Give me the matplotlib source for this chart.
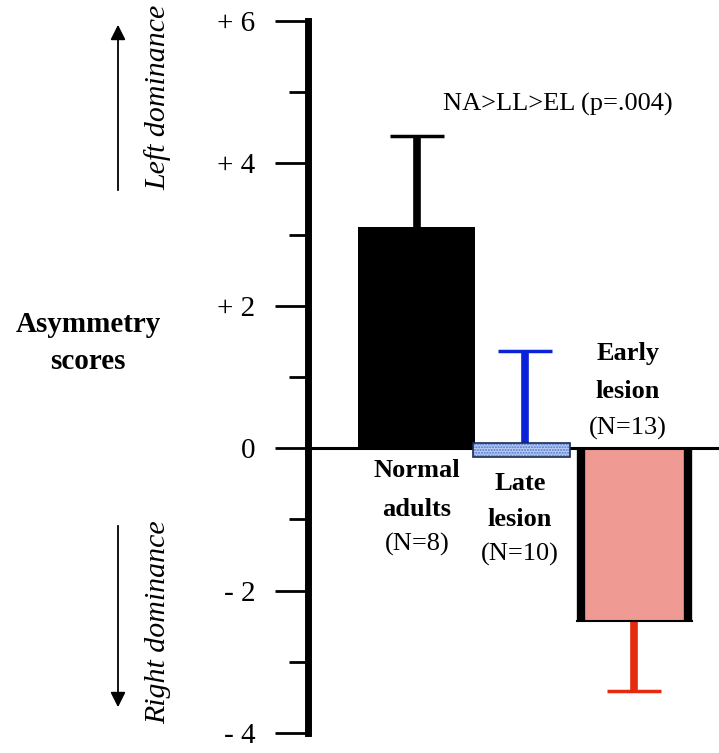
"""
 * Asymmetry scores for normal adults, late lesion and early lesion groups.
"""
import matplotlib
matplotlib.use("Agg")
from matplotlib import pyplot as plt

plt.rcParams['font.family'] = ['Liberation Serif', 'DejaVu Serif']

# data
groups = ["Normal\nadults", "Late\nlesion", "Early\nlesion"]
n_labels = ["(N=8)", "(N=10)", "(N=13)"]
means = [3.10, -0.13, -2.42]
error_ends = [4.38, 1.36, -3.41]
yticks = [-4, -2, 0, 2, 4, 6]
ytick_labels = ["- 4", "- 2", "0", "+ 2", "+ 4", "+ 6"]
stat_note = "NA>LL>EL (p=.004)"

# layout (1 x unit = 100 px)
x_pos = [1.085, 2.135, 3.265]
widths = [1.17, 0.97, 1.15]
err_x = [1.09, 2.17, 3.26]
err_colors = ["black", "#0a22d8", "#e52a0e"]
late_top = 0.08  # the late-lesion bar is drawn as a thin band across zero
label_x = [1.09, 2.12, 3.20]
label_y = [(-0.32, -0.86, -1.35), (-0.49, -1.0, -1.49), (1.33, 0.80, 0.28)]

fig = plt.figure(figsize=(7.19, 7.53), dpi=100)
ax = fig.add_axes([308 / 719, 20 / 753, 1 - 308 / 719, 712 / 753])

# normal adults
ax.bar(x_pos[0], means[0], width=widths[0], color="black", zorder=2)

# late lesion: dotted blue band
late_h = means[1] - late_top
ax.bar(x_pos[1], late_h, bottom=late_top, width=widths[1], color="#b9cdf2",
       edgecolor="#4f74cf", hatch="......", linewidth=0, zorder=3)
ax.bar(x_pos[1], late_h, bottom=late_top, width=widths[1], fill=False,
       edgecolor="#1a2a55", linewidth=1.2, zorder=4)

# early lesion
ax.bar(x_pos[2], means[2], width=widths[2], color="#f09a94", zorder=2)
left = x_pos[2] - widths[2] / 2 + 0.04
right = x_pos[2] + widths[2] / 2 - 0.04
ax.plot([left, left], [0, means[2]], color="black", lw=6, solid_capstyle="butt", zorder=3)
ax.plot([right, right], [0, means[2]], color="black", lw=6, solid_capstyle="butt", zorder=3)
ax.plot([left - 0.04, right + 0.04], [means[2], means[2]], color="black", lw=1.5, zorder=3)

# one-sided error bars
starts = [means[0], late_top, means[2]]
for i in range(3):
    ax.vlines(err_x[i], starts[i], error_ends[i], color=err_colors[i], lw=5.5, zorder=1)
    ax.hlines(error_ends[i], err_x[i] - 0.27, err_x[i] + 0.27, color=err_colors[i],
              lw=2.5, zorder=1)

ax.axhline(0, color="black", lw=2.2, zorder=2.5)

ax.set_xlim(0, 4.11)
ax.set_ylim(-4, 6)
ax.set_yticks(yticks)
ax.set_yticklabels(ytick_labels, fontsize=21)
ax.set_yticks([-3, -1, 1, 3, 5], minor=True)
ax.tick_params(axis="y", which="major", length=24, width=2, pad=14)
ax.tick_params(axis="y", which="minor", length=14, width=2)
ax.set_xticks([])
for side in ["top", "right", "bottom"]:
    ax.spines[side].set_visible(False)
ax.spines["left"].set_linewidth(5)

# group labels
for i in range(3):
    name_lines = groups[i].split("\n")
    ys = label_y[i]
    ax.text(label_x[i], ys[0], name_lines[0], ha="center", va="center",
            fontsize=19, fontweight="bold")
    ax.text(label_x[i], ys[1], name_lines[1], ha="center", va="center",
            fontsize=19, fontweight="bold")
    ax.text(label_x[i], ys[2], n_labels[i], ha="center", va="center", fontsize=19)

ax.text(2.5, 4.83, stat_note, ha="center", va="center", fontsize=19)

# left side annotations
fig.text(88 / 719, 1 - 343 / 753, "Asymmetry\nscores", ha="center", va="center",
         fontsize=21, fontweight="bold", linespacing=1.45)
fig.text(158 / 719, 1 - 97 / 753, "Left dominance", rotation=90, ha="center",
         va="center", fontsize=21.5, style="italic")
fig.text(158 / 719, 1 - 622 / 753, "Right dominance", rotation=90, ha="center",
         va="center", fontsize=21.5, style="italic")
fig.add_artist(matplotlib.patches.FancyArrowPatch(
    (118 / 719, 1 - 193 / 753), (118 / 719, 1 - 22 / 753), transform=fig.transFigure,
    arrowstyle="-|>,head_length=9,head_width=4.5", color="black", lw=1.3))
fig.add_artist(matplotlib.patches.FancyArrowPatch(
    (118 / 719, 1 - 523 / 753), (118 / 719, 1 - 710 / 753), transform=fig.transFigure,
    arrowstyle="-|>,head_length=9,head_width=4.5", color="black", lw=1.3))

fig.savefig("out.png", dpi=100)
